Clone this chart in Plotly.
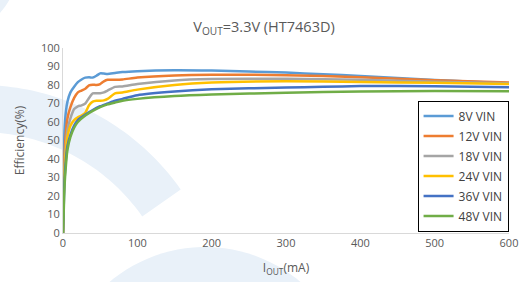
import numpy as np
import plotly.graph_objects as go

# ---------------- data ----------------
series_names = ["8V VIN", "12V VIN", "18V VIN", "24V VIN", "36V VIN", "48V VIN"]
series_colors = ["#5B9BD5", "#ED7D31", "#A5A5A5", "#FFC000", "#4472C4", "#70AD47"]

x_8v = [0, 1, 2, 4, 6, 10, 15, 20, 25, 30, 35, 40, 45, 50, 55, 60, 70, 80, 100, 150, 200, 250, 300, 350, 400, 450, 500, 550, 600]
y_8v = [0, 35, 55, 66, 71, 76, 79, 81.5, 83, 84, 84.2, 84, 85, 86.3, 86.2, 86, 86.5, 87, 87.5, 88, 87.8, 87.3, 86.7, 85.8, 84.9, 83.8, 82.7, 81.8, 81]

x_12v = [0, 1, 2, 4, 6, 10, 15, 20, 25, 30, 35, 40, 45, 50, 55, 60, 70, 80, 100, 150, 200, 300, 400, 500, 600]
y_12v = [0, 25, 42, 55, 62, 68, 73, 76, 77, 78, 79.8, 80.2, 80, 80.5, 82, 82.8, 82.8, 83, 84, 85.2, 85.6, 85.3, 84.2, 82.6, 81.3]

x_18v = [0, 1, 2, 4, 6, 10, 15, 20, 25, 30, 35, 40, 45, 50, 55, 60, 70, 80, 100, 150, 200, 300, 400, 500, 600]
y_18v = [0, 20, 35, 48, 56, 62, 67, 68.5, 69, 70, 73, 75.5, 75.5, 75.5, 76, 77, 79, 79.2, 80.5, 82.5, 83.2, 83.4, 82.8, 81.8, 81]

x_24v = [0, 1, 2, 4, 6, 10, 15, 20, 25, 30, 35, 40, 45, 50, 55, 60, 65, 70, 80, 100, 150, 200, 300, 400, 500, 600]
y_24v = [0, 20, 32, 45, 52, 58, 61, 62.5, 63.5, 65, 69, 71, 71.5, 71.5, 71.7, 72.5, 74, 75.5, 76, 77.5, 80, 81.3, 82, 81.6, 81.2, 80.5]

x_36v = [0, 1, 2, 4, 6, 10, 15, 20, 30, 40, 50, 60, 70, 80, 100, 150, 200, 300, 350, 400, 500, 600]
y_36v = [0, 15, 28, 40, 47, 53, 58, 61, 64, 66.5, 68.5, 70, 71.5, 72.5, 74.5, 76.5, 77.7, 78.6, 79, 79.4, 79.3, 78.8]

x_48v = [0, 1, 2, 4, 6, 10, 15, 20, 30, 40, 50, 60, 70, 80, 100, 150, 200, 300, 400, 500, 600]
y_48v = [0, 12, 25, 37, 45, 52, 57, 60, 63.5, 66, 68, 69.5, 70.5, 71.5, 72.5, 74, 74.8, 75.8, 76.5, 76.7, 76.6]

x_ticks = [0, 100, 200, 300, 400, 500, 600]
y_ticks = [0, 10, 20, 30, 40, 50, 60, 70, 80, 90, 100]

xs = [x_8v, x_12v, x_18v, x_24v, x_36v, x_48v]
ys = [y_8v, y_12v, y_18v, y_24v, y_36v, y_48v]

# ---------------- figure ----------------
W, H = 528, 282
ML, MR, MT, MB = 63, 19, 48, 49
PW, PH = W - ML - MR, H - MT - MB

def px2paper(px, py):
    return (px - ML) / PW, (H - MB - py) / PH

def ring_path(cx, cy, R, r, a0, a1, n=60):
    ang = np.radians(np.linspace(a0, a1, n))
    outer = [(cx + R * np.cos(a), cy + R * np.sin(a)) for a in ang]
    inner = [(cx + r * np.cos(a), cy + r * np.sin(a)) for a in ang[::-1]]
    pts = [px2paper(x, y) for x, y in outer + inner]
    return "M " + " L ".join(f"{x:.4f},{y:.4f}" for x, y in pts) + " Z"

fig = go.Figure()
for name, color, x, y in zip(series_names, series_colors, xs, ys):
    fig.add_trace(go.Scatter(
        x=x, y=y, name=name, mode="lines",
        line=dict(color=color, width=2.5, shape="spline", smoothing=0.6),
        legendgroup=name,
    ))

wm = "#E9F1F9"
shapes = [
    dict(type="path", xref="paper", yref="paper", layer="below",
         path=ring_path(-20, 330, 245, 198, -105, -35), fillcolor=wm, line=dict(width=0)),
    dict(type="path", xref="paper", yref="paper", layer="below",
         path=ring_path(205, 395, 148, 0, -180, 0), fillcolor=wm, line=dict(width=0)),
    dict(type="path", xref="paper", yref="paper", layer="below",
         path=ring_path(-60, -40, 80, 40, 20, 70), fillcolor=wm, line=dict(width=0)),
]

fig.update_layout(
    width=W, height=H,
    margin=dict(l=ML, r=MR, t=MT, b=MB, autoexpand=False),
    paper_bgcolor="white", plot_bgcolor="rgba(0,0,0,0)",
    font=dict(family="Open Sans", color="#595959", size=11),
    title=dict(text="V<sub>OUT</sub>=3.3V (HT7463D)", x=0.5, xref="container",
               y=0.905, yref="container", xanchor="center", yanchor="middle",
               font=dict(size=14.5, color="#595959")),
    shapes=shapes,
    showlegend=True,
    legend=dict(x=0.795, y=0.716, xanchor="left", yanchor="top",
                bordercolor="black", borderwidth=1, bgcolor="white",
                font=dict(size=12, color="#404040"),
                traceorder="grouped", tracegroupgap=1, itemwidth=30),
    xaxis=dict(range=[0, 600], tickvals=x_ticks, showgrid=False, zeroline=False,
               showline=True, linecolor="#D9D9D9", linewidth=1, ticks="",
               automargin=False,
               title=dict(text="I<sub>OUT</sub>(mA)", font=dict(size=12, color="#595959"), standoff=14),
               tickfont=dict(size=11, color="#595959")),
    yaxis=dict(range=[0, 100], tickvals=y_ticks, showgrid=False, zeroline=False,
               showline=True, linecolor="#D9D9D9", linewidth=1, ticks="",
               automargin=False,
               title=dict(text="Efficiency(%)", font=dict(size=12, color="#595959"), standoff=13),
               tickfont=dict(size=11, color="#595959")),
)

fig.write_html("out.html", config={"displayModeBar": False},
               post_script="document.body.style.margin='0';document.body.style.padding='0';")
